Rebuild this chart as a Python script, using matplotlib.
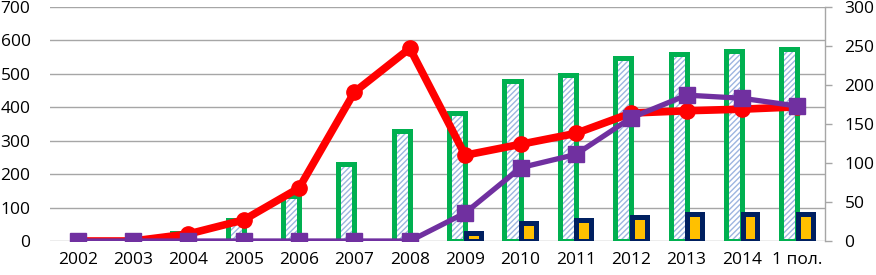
import matplotlib
matplotlib.use("Agg")
import matplotlib.pyplot as plt
import numpy as np

plt.rcParams['font.family'] = ['Open Sans', 'DejaVu Sans']

categories = ["2002", "2003", "2004", "2005", "2006", "2007", "2008",
              "2009", "2010", "2011", "2012", "2013", "2014", "1 пол."]
# bars, left axis
green_bars = [0, 0, 25, 62, 135, 230, 329, 383, 479, 497, 547, 559, 568, 574]
gold_bars = [0, 0, 0, 0, 0, 0, 0, 25, 55, 62, 72, 80, 80, 80]
# lines, right axis
red_line = [0, 0, 9, 27, 68, 191, 247, 110, 124, 138, 164, 167, 169, 172]
purple_line = [0, 0, 0, 0, 0, 0, 0, 36, 94, 111, 158, 187, 183, 173]

left_ticks = [0, 100, 200, 300, 400, 500, 600, 700]
right_ticks = [0, 50, 100, 150, 200, 250, 300]

W, H = 876, 275
fig = plt.figure(figsize=(W / 100, H / 100), dpi=100)
ax = fig.add_axes([50 / W, 1 - 241 / H, (825 - 50) / W, (241 - 7) / H])
ax2 = ax.twinx()

x = np.arange(len(categories))
bw_g = 0.29
bw_y = 0.27
off = 0.145
grid_c = '#A6A6A6'

plt.rcParams['hatch.linewidth'] = 1.0
gxs = [xi - off for xi, v in zip(x, green_bars) if v > 0]
gvs = [v for v in green_bars if v > 0]
# green hatched bars: fill + hatch first, then outline
ax.bar(gxs, gvs, width=bw_g, facecolor='white', edgecolor='#9DB5E0',
       hatch='//////', linewidth=0, zorder=2)
ax.bar(gxs, gvs, width=bw_g, facecolor='none', edgecolor='#00B050',
       linewidth=3.6, zorder=3)
# gold bars
yx = [xi + off for xi, v in zip(x, gold_bars) if v > 0]
yv = [v for v in gold_bars if v > 0]
ax.bar(yx, yv, width=bw_y, facecolor='#FFC000', edgecolor='#002060',
       linewidth=3.6, zorder=4)

ax.set_ylim(0, 700)
ax.set_yticks(left_ticks)
ax.set_xlim(-0.5, len(categories) - 0.5)
ax.set_xticks(x)
ax.set_xticklabels(categories)
ax.grid(axis='y', color=grid_c, linewidth=1.0, zorder=0)
ax.set_axisbelow(True)
for s in ['top', 'left', 'bottom', 'right']:
    ax.spines[s].set_visible(False)
ax.tick_params(axis='y', length=0, pad=14, labelsize=12.5, labelcolor='#000000')
ax.tick_params(axis='x', length=0, pad=8, labelsize=12.5, labelcolor='#000000')

ax2.plot(x, red_line, color='#FF0000', linewidth=5.5, marker='o', markersize=11,
         zorder=5, solid_capstyle='round')
ax2.plot(x, purple_line, color='#7030A0', linewidth=3.8, marker='s', markersize=11,
         zorder=6)
ax2.set_ylim(0, 300)
ax2.set_yticks(right_ticks)
for s in ['top', 'left', 'bottom']:
    ax2.spines[s].set_visible(False)
ax2.spines['right'].set_color(grid_c)
ax2.spines['right'].set_linewidth(1.0)
ax2.tick_params(axis='y', length=5, width=1, color=grid_c, pad=9, labelsize=12.5)
ax2.patch.set_visible(False)

fig.savefig('out.png', dpi=100)
